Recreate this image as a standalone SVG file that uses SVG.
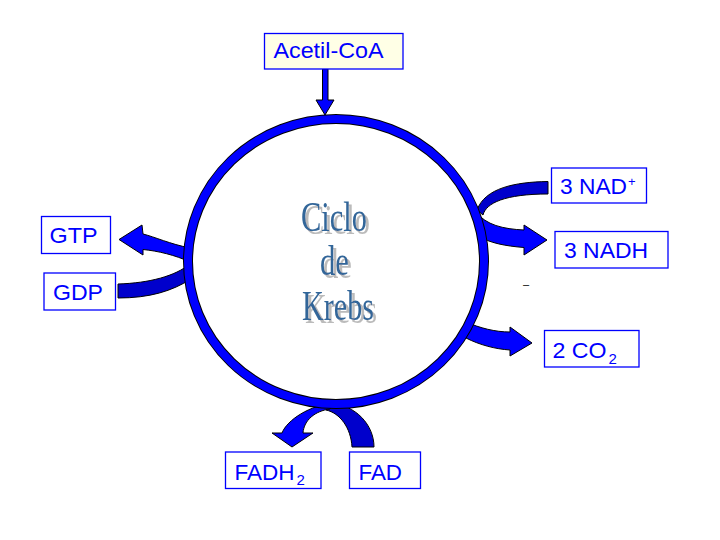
<svg xmlns="http://www.w3.org/2000/svg" width="720" height="540" viewBox="0 0 720 540">
<style>
.box{fill:#FFFFFF;stroke:#0000FF;stroke-width:1.3}
.lbl{font-family:"Liberation Sans",Arial,sans-serif;font-size:22.5px;fill:#0000FF}
.sub{font-size:15px}
.bl{fill:#0000FF;stroke:#000000;stroke-width:1}
.bd{fill:#0000CC;stroke:#000000;stroke-width:1}
.title{font-family:"Liberation Serif","Times New Roman",serif;font-size:43px;fill:#336699}
</style>
<defs>
  <filter id="shadow" x="-20%" y="-20%" width="140%" height="140%">
    <feFlood flood-color="#BBBBBB" result="c"/>
    <feComposite in="c" in2="SourceAlpha" operator="in" result="s"/>
    <feOffset in="s" dx="2.5" dy="2.5" result="o"/>
    <feMerge><feMergeNode in="o"/><feMergeNode in="SourceGraphic"/></feMerge>
  </filter>
</defs>
<rect width="720" height="540" fill="#FFFFFF"/>
<g id="connectors">
  <path class="bl" d="M322.5,69 L328,69 L328,100 L334,100 L325,115 L316,100 L322.5,100 Z" stroke="none"/>
  <path class="bd" d="M548,181.5 C515,182 485,188 477,210 L483,215 C486,203 505,194 548,194 Z"/>
  <path class="bl" d="M476,212 C486,225 503,229 524,230 L524,225 L547,240 L524,255 L524,247.5 C505,246 490,243 478,236 Z"/>
  <path class="bl" d="M466,322 C480,328 495,332 510,332 L510,327 L532,343 L510,356 L510,350 C495,349 480,345 466,338 Z"/>
  <path class="bd" d="M118,284 C150,283 175,276 190,264 L191,279 C172,291 150,298 118,298 Z"/>
  <path class="bl" d="M190,248 C170,244 155,237 143,234 L142,225 L119,239.5 L143,255 L143,249.5 C158,251 175,255 190,262 Z"/>
  <path class="bd" d="M374,447 C374,425 356,405 330,403 L326,410 C340,413 351,428 352,447 Z"/>
  <path class="bl" d="M334,403 C310,405 287,420 282,433 L272,433 L292,447 L313,433 L303,433 C304,420 315,411 330,409 Z"/>
</g>
<g id="cycle">
  <ellipse cx="336" cy="261.5" rx="148" ry="142.5" fill="none" stroke="#000000" stroke-width="10"/>
  <ellipse cx="336" cy="261.5" rx="148" ry="142.5" fill="none" stroke="#0000FF" stroke-width="8"/>
  <g filter="url(#shadow)">
    <text class="title" x="301" y="231" textLength="66" lengthAdjust="spacingAndGlyphs">Ciclo</text>
    <text class="title" x="320" y="275" textLength="29" lengthAdjust="spacingAndGlyphs">de</text>
    <text class="title" x="302" y="320" textLength="72" lengthAdjust="spacingAndGlyphs">Krebs</text>
  </g>
</g>
<g id="acetil">
  <rect class="box" x="264.5" y="33.5" width="138.5" height="35.5" style="fill:#FFFFE6"/>
  <text class="lbl" x="273.5" y="57.5" textLength="110" lengthAdjust="spacingAndGlyphs">Acetil-CoA</text>
</g>
<g id="nad">
  <rect class="box" x="551.5" y="168" width="95" height="35"/>
  <text class="lbl" x="560" y="193.5" textLength="67" lengthAdjust="spacingAndGlyphs">3 NAD</text>
  <text class="lbl" x="628" y="186" style="font-size:13px">+</text>
</g>
<g id="nadh">
  <rect class="box" x="555" y="231.5" width="113" height="36.5"/>
  <text class="lbl" x="564" y="257.5" textLength="84" lengthAdjust="spacingAndGlyphs">3 NADH</text>
</g>
<g id="co2">
  <rect class="box" x="544.5" y="330.5" width="94.5" height="36.5"/>
  <text class="lbl" x="552.5" y="357.5" textLength="54" lengthAdjust="spacingAndGlyphs">2 CO</text>
  <text class="lbl sub" x="608.5" y="363.5">2</text>
</g>
<g id="gtp">
  <rect class="box" x="41.5" y="216.5" width="69" height="37"/>
  <text class="lbl" x="49.5" y="242.5" textLength="48" lengthAdjust="spacingAndGlyphs">GTP</text>
</g>
<g id="gdp">
  <rect class="box" x="44" y="273" width="71.5" height="37"/>
  <text class="lbl" x="53" y="299.5" textLength="50" lengthAdjust="spacingAndGlyphs">GDP</text>
</g>
<g id="fadh2">
  <rect class="box" x="225.5" y="452" width="95.5" height="36.5"/>
  <text class="lbl" x="234.5" y="479.5" textLength="60" lengthAdjust="spacingAndGlyphs">FADH</text>
  <text class="lbl sub" x="296.5" y="485">2</text>
</g>
<g id="fad">
  <rect class="box" x="349.5" y="452" width="71" height="36.5"/>
  <text class="lbl" x="358.5" y="479.5" textLength="43.5" lengthAdjust="spacingAndGlyphs">FAD</text>
</g>
<text x="523" y="288" style="font-family:'Liberation Sans',Arial,sans-serif;font-size:11px;fill:#000000">–</text>
</svg>
